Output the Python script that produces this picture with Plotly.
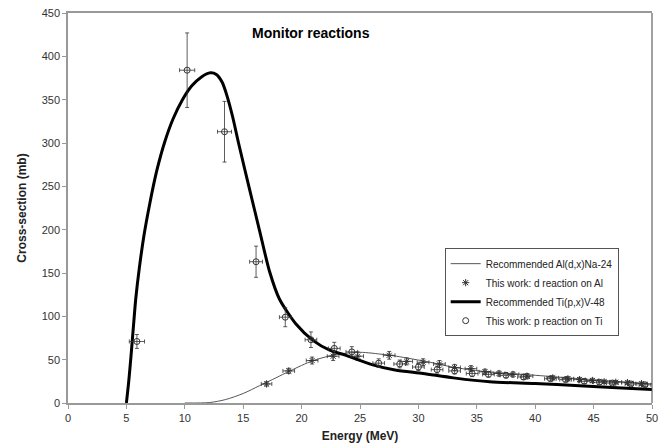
import plotly.graph_objects as go

# Recommended curves
ti_curve_e = [5.0, 5.2, 5.4, 5.6, 5.8, 6.1, 6.5, 7.0, 7.6, 8.3, 9.0, 9.8, 10.6, 11.4, 12.2, 12.7,
              13.2, 13.6, 14.1, 14.6, 15.5, 16.4, 17.25, 18.1, 19.5, 21.0, 22.4, 23.8, 26.1, 28.0,
              30.4, 33.0, 36.1, 40.0, 43.8, 47.0, 50.0]
ti_curve_xs = [0, 25, 55, 88, 120, 155, 193, 230, 268, 302, 328, 350, 366, 376, 381, 379,
               370, 355, 330, 300, 249, 199, 152, 120, 91.5, 72, 61, 55, 44, 38,
               34, 29, 24.5, 22.5, 20, 17.5, 15.5]

al_curve_e = [10.0, 12.1, 13.5, 15.0, 16.4, 17.8, 19.0, 21.0, 23.0, 25.0, 27.0, 28.1, 31.0, 32.7,
              35.2, 40.0, 43.8, 47.0, 50.0]
al_curve_xs = [0, 0.5, 4, 11, 20, 29, 37, 49, 56, 58.5, 56, 54, 47, 42, 37, 32, 28, 25, 22]

# This work: d reaction on Al
al_e = [17.0, 18.9, 20.9, 22.7, 24.8, 27.5, 29.0, 30.4, 31.8, 33.1, 34.5, 35.7, 36.9, 38.1, 39.3,
        41.5, 42.8, 43.8, 44.9, 45.9, 46.9, 47.9, 49.1]
al_xs = [22, 37, 49, 54, 54, 55, 48, 47, 45, 41, 39.6, 36, 34, 33, 31,
         29, 28, 27, 26, 24.5, 24, 23.5, 22.3]
al_de = [0.45, 0.5, 0.5, 0.5, 0.5, 0.5, 0.5, 0.5, 0.5, 0.5, 0.5, 0.5, 0.5, 0.5, 0.5,
         0.5, 0.5, 0.5, 0.5, 0.5, 0.5, 0.5, 0.5]
al_dxs = [2.5, 3, 4, 5, 5, 4.5, 4, 4, 4, 3.5, 3.5, 3, 3, 3, 3,
          2.5, 2.5, 2.5, 2.5, 2, 2, 2, 2]

# This work: p reaction on Ti
ti_e = [5.9, 10.2, 13.4, 16.1, 18.6, 20.8, 22.8, 24.3, 26.6, 28.4, 30.0, 31.6, 33.1, 34.6, 36.0,
        37.5, 39.0, 41.3, 42.6, 44.2, 45.5, 46.6, 48.2, 49.4]
ti_xs = [71, 384, 313, 163, 99, 73, 63, 59, 46, 45, 41.5, 38.5, 37, 34, 33,
         32, 30, 28, 27, 25, 24, 23, 22, 21]
ti_de = [0.65, 0.65, 0.6, 0.55, 0.5, 0.5, 0.5, 0.5, 0.5, 0.5, 0.5, 0.5, 0.5, 0.5, 0.5,
         0.5, 0.5, 0.5, 0.5, 0.5, 0.5, 0.5, 0.5, 0.5]
ti_dxs = [8, 43, 35, 18, 11, 9, 7, 6, 5, 4.5, 4, 4, 3.5, 3.5, 3,
          3, 3, 2.5, 2.5, 2.5, 2.5, 2, 2, 2]

x_ticks = list(range(0, 51, 5))
y_ticks = list(range(0, 451, 50))

err_col = "#333333"
fig = go.Figure()
fig.add_trace(go.Scatter(x=al_curve_e, y=al_curve_xs, mode="lines",
                         line=dict(color="#555555", width=1, shape="spline", smoothing=0.8),
                         name="Recommended Al(d,x)Na-24"))
fig.add_trace(go.Scatter(x=al_e, y=al_xs, mode="markers", name="This work: d reaction on Al",
                         marker=dict(symbol="asterisk-open", size=6, color="#333333",
                                     line=dict(width=1, color="#333333")),
                         error_x=dict(type="data", array=al_de, color=err_col, thickness=0.8, width=2),
                         error_y=dict(type="data", array=al_dxs, color=err_col, thickness=0.8, width=2)))
fig.add_trace(go.Scatter(x=ti_curve_e, y=ti_curve_xs, mode="lines",
                         line=dict(color="black", width=3, shape="spline", smoothing=0.7),
                         name="Recommended Ti(p,x)V-48"))
fig.add_trace(go.Scatter(x=ti_e, y=ti_xs, mode="markers", name="This work: p reaction on Ti",
                         marker=dict(symbol="circle-open", size=6, color="#333333",
                                     line=dict(width=1, color="#333333")),
                         error_x=dict(type="data", array=ti_de, color=err_col, thickness=0.8, width=2),
                         error_y=dict(type="data", array=ti_dxs, color=err_col, thickness=0.8, width=2)))

fig.add_annotation(x=20.8, y=427, xref="x", yref="y", text="<b>Monitor reactions</b>",
                   showarrow=False, font=dict(family="Liberation Sans, Arial", size=14, color="black"))

fig.add_shape(type="line", xref="paper", yref="paper", x0=1, x1=1, y0=0, y1=1,
              line=dict(color="#444444", width=1))

fig.update_layout(
    width=668, height=447,
    margin=dict(l=68, r=16, t=13, b=44),
    paper_bgcolor="white", plot_bgcolor="white",
    font=dict(family="Liberation Sans, Arial", size=11, color="#333333"),
    showlegend=True,
    legend=dict(x=0.645, y=0.397, xanchor="left", yanchor="top",
                bgcolor="white", bordercolor="#555555", borderwidth=1,
                font=dict(size=10, color="#222222"), tracegroupgap=0, itemwidth=30),
)
fig.update_xaxes(range=[0, 50], tickvals=x_ticks, showgrid=False, zeroline=False, automargin=False,
                 showline=True, linecolor="#999999", linewidth=1.5, mirror=True,
                 ticks="outside", ticklen=4, tickcolor="#999999",
                 title=dict(text="<b>Energy (MeV)</b>", standoff=9,
                            font=dict(size=12, color="#222222")))
fig.update_yaxes(range=[0, 450], tickvals=y_ticks, showgrid=False, zeroline=False, automargin=False,
                 showline=True, linecolor="#999999", linewidth=1.5,
                 ticks="outside", ticklen=4, tickcolor="#999999",
                 title=dict(text="<b>Cross-section (mb)</b>", standoff=12,
                            font=dict(size=12, color="#222222")))

fig.write_html("out.html")
